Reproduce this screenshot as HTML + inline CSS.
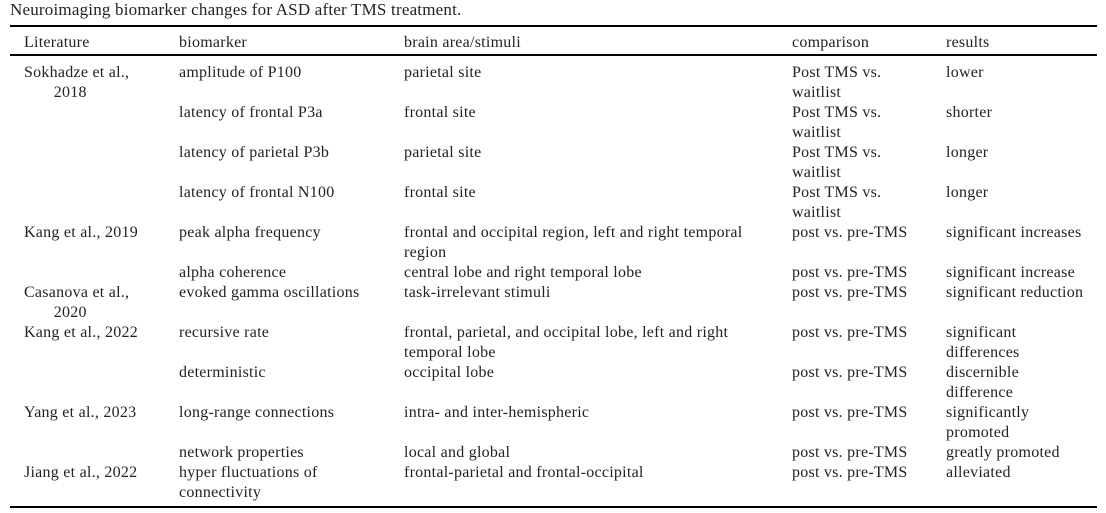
<!DOCTYPE html><html><head><style>
body{margin:0;width:1106px;height:513px;background:#fff;position:relative;font-family:"Liberation Serif",serif;color:#222;overflow:hidden}
.t{position:absolute;font-size:16px;letter-spacing:0.25px;line-height:20px;white-space:nowrap;margin-top:1px}
.r{position:absolute;left:10px;width:1087px;background:#000}
</style></head><body>
<div class="t" style="left:10px;top:-1px;font-size:17px;letter-spacing:0.2px">Neuroimaging biomarker changes for ASD after TMS treatment.</div>
<div class="r" style="top:25px;height:2px"></div>
<div class="r" style="top:54px;height:2px"></div>
<div class="r" style="top:506px;height:2px"></div>
<div class="t" style="left:24px;top:32px">Literature</div>
<div class="t" style="left:179px;top:32px">biomarker</div>
<div class="t" style="left:404px;top:32px">brain area/stimuli</div>
<div class="t" style="left:792px;top:32px">comparison</div>
<div class="t" style="left:946px;top:32px">results</div>

<div class="t" style="left:24px;top:62px">Sokhadze et al.,<br>&nbsp;&nbsp;&nbsp;&nbsp;&nbsp;&nbsp;&nbsp;2018</div>
<div class="t" style="left:179px;top:62px">amplitude of P100</div>
<div class="t" style="left:404px;top:62px">parietal site</div>
<div class="t" style="left:792px;top:62px">Post TMS vs.<br>waitlist</div>
<div class="t" style="left:946px;top:62px">lower</div>

<div class="t" style="left:179px;top:102px">latency of frontal P3a</div>
<div class="t" style="left:404px;top:102px">frontal site</div>
<div class="t" style="left:792px;top:102px">Post TMS vs.<br>waitlist</div>
<div class="t" style="left:946px;top:102px">shorter</div>

<div class="t" style="left:179px;top:142px">latency of parietal P3b</div>
<div class="t" style="left:404px;top:142px">parietal site</div>
<div class="t" style="left:792px;top:142px">Post TMS vs.<br>waitlist</div>
<div class="t" style="left:946px;top:142px">longer</div>

<div class="t" style="left:179px;top:182px">latency of frontal N100</div>
<div class="t" style="left:404px;top:182px">frontal site</div>
<div class="t" style="left:792px;top:182px">Post TMS vs.<br>waitlist</div>
<div class="t" style="left:946px;top:182px">longer</div>

<div class="t" style="left:24px;top:222px">Kang et al., 2019</div>
<div class="t" style="left:179px;top:222px">peak alpha frequency</div>
<div class="t" style="left:404px;top:222px">frontal and occipital region, left and right temporal<br>region</div>
<div class="t" style="left:792px;top:222px">post vs. pre-TMS</div>
<div class="t" style="left:946px;top:222px">significant increases</div>

<div class="t" style="left:179px;top:262px">alpha coherence</div>
<div class="t" style="left:404px;top:262px">central lobe and right temporal lobe</div>
<div class="t" style="left:792px;top:262px">post vs. pre-TMS</div>
<div class="t" style="left:946px;top:262px">significant increase</div>

<div class="t" style="left:24px;top:282px">Casanova et al.,<br>&nbsp;&nbsp;&nbsp;&nbsp;&nbsp;&nbsp;&nbsp;2020</div>
<div class="t" style="left:179px;top:282px">evoked gamma oscillations</div>
<div class="t" style="left:404px;top:282px">task-irrelevant stimuli</div>
<div class="t" style="left:792px;top:282px">post vs. pre-TMS</div>
<div class="t" style="left:946px;top:282px">significant reduction</div>

<div class="t" style="left:24px;top:322px">Kang et al., 2022</div>
<div class="t" style="left:179px;top:322px">recursive rate</div>
<div class="t" style="left:404px;top:322px">frontal, parietal, and occipital lobe, left and right<br>temporal lobe</div>
<div class="t" style="left:792px;top:322px">post vs. pre-TMS</div>
<div class="t" style="left:946px;top:322px">significant<br>differences</div>

<div class="t" style="left:179px;top:362px">deterministic</div>
<div class="t" style="left:404px;top:362px">occipital lobe</div>
<div class="t" style="left:792px;top:362px">post vs. pre-TMS</div>
<div class="t" style="left:946px;top:362px">discernible<br>difference</div>

<div class="t" style="left:24px;top:402px">Yang et al., 2023</div>
<div class="t" style="left:179px;top:402px">long-range connections</div>
<div class="t" style="left:404px;top:402px">intra- and inter-hemispheric</div>
<div class="t" style="left:792px;top:402px">post vs. pre-TMS</div>
<div class="t" style="left:946px;top:402px">significantly<br>promoted</div>

<div class="t" style="left:179px;top:442px">network properties</div>
<div class="t" style="left:404px;top:442px">local and global</div>
<div class="t" style="left:792px;top:442px">post vs. pre-TMS</div>
<div class="t" style="left:946px;top:442px">greatly promoted</div>

<div class="t" style="left:24px;top:462px">Jiang et al., 2022</div>
<div class="t" style="left:179px;top:462px">hyper fluctuations of<br>connectivity</div>
<div class="t" style="left:404px;top:462px">frontal-parietal and frontal-occipital</div>
<div class="t" style="left:792px;top:462px">post vs. pre-TMS</div>
<div class="t" style="left:946px;top:462px">alleviated</div>
</body></html>
